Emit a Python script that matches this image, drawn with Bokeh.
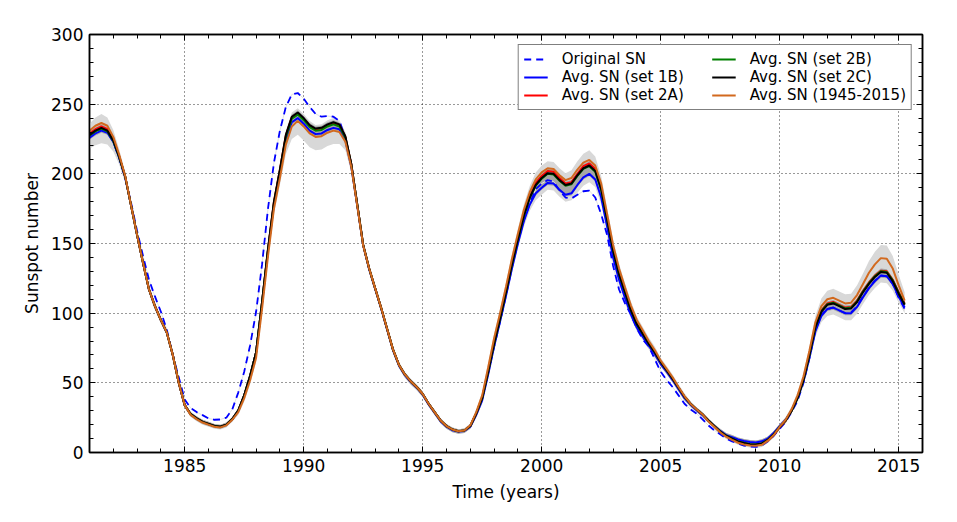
import numpy as np
from bokeh.plotting import figure
from bokeh.models import Range1d, LinearAxis, SingleIntervalTicker, Legend, LegendItem
from bokeh.embed import file_html
from bokeh.resources import INLINE

# time axis: quarter-year samples 1981.00 ... 2015.25
years = np.round(np.arange(1981.0, 2015.26, 0.25), 2)

original_sn = [
    226, 229.5, 232, 230,
    223, 211, 197, 179,
    159, 141, 124, 112,
    101, 88, 70, 54,
    38, 32, 29, 26.8,
    24.5, 23.5, 23.7, 25,
    31, 43, 58, 77,
    101, 135, 175, 208,
    231, 248, 257, 258,
    254, 248, 243, 241,
    241.5, 241, 238, 226,
    207, 178, 149, 132,
    118, 104, 89, 74,
    63, 56, 51, 47,
    42, 35, 29, 23,
    19, 16.5, 15.2, 15.8,
    19, 28, 39, 57,
    76, 94, 113, 133,
    151, 167, 179, 189,
    193, 195.5, 194.5, 188,
    183, 182.3, 185, 187.5,
    188, 183, 171, 156,
    134, 117, 107, 99,
    89, 81, 76, 67,
    58, 52, 47, 41,
    35, 31, 28, 24,
    19.5, 16, 13, 10,
    8, 6.5, 5, 4.2,
    4, 5, 8, 12,
    17, 22, 29, 37,
    50, 68, 88, 99,
    103, 104, 102, 100,
    100.5, 105, 112, 118,
    123.5, 127, 126.5, 121,
    111, 103,
]

avg_1b = [
    226, 229, 231, 229.5,
    223, 211.5, 197.5, 177,
    156, 136, 117, 105,
    95, 86, 70, 50,
    34, 27.5, 24.5, 22,
    20.5, 19, 18.5, 20,
    24, 30, 41, 55,
    72, 107, 145, 178,
    200, 224, 237, 240,
    236, 231, 228.5, 229,
    231.5, 233, 232, 224,
    205, 177, 148.5, 131.5,
    117.5, 103.5, 88.5, 73.5,
    62.5, 55.5, 50.5, 46.5,
    41.5, 34.5, 28.5, 22.5,
    18.5, 16, 15, 15.5,
    18.5, 27, 37.5, 56,
    76, 94, 112.5, 132,
    150, 166, 178, 186,
    190, 193.5, 193, 188.5,
    185, 186, 192, 197.5,
    200, 196, 183, 162,
    140, 124, 111, 99,
    89.5, 83, 76.5, 70.5,
    63.5, 58, 52, 45.5,
    39, 34.5, 30.5, 27,
    23, 19, 15.5, 12.5,
    11, 9.3, 8.2, 7.5,
    7.2, 8, 10, 14,
    19, 23.5, 30, 39,
    51, 68, 87, 98,
    103, 104, 102, 100,
    100, 104.5, 111.5, 118,
    123, 127, 126.5, 121,
    112, 104,
]

avg_2a = [
    229, 232, 234, 232,
    225, 212.5, 198, 177,
    156, 136, 117, 105,
    95, 86, 70, 50,
    34, 27.5, 24.5, 22,
    20.5, 19, 18.5, 20,
    24, 30, 41, 55,
    72, 108, 146, 180,
    203, 227.5, 240.5, 243.5,
    239.5, 234.5, 232, 232.5,
    235, 236.5, 235, 226.5,
    207, 178, 149, 132,
    118, 104, 89, 74,
    63, 56, 51, 47,
    42, 35, 29, 23,
    19, 16.5, 15.2, 15.8,
    19, 28, 39.5, 58.5,
    79, 97, 116, 136,
    154, 171, 184, 193.5,
    198.5, 202, 201.5, 197,
    193, 194, 200, 205.5,
    207.5, 203.5, 190, 168,
    146, 129, 116, 103,
    93, 85.5, 78.5, 72,
    65, 59, 53, 46.5,
    40, 35, 31, 27.5,
    23, 18.8, 14.8, 11.7,
    9.6, 7.6, 6.3, 5.5,
    5.2, 6, 8.5, 12.5,
    18, 22.8, 30, 39.5,
    52.5, 71, 91, 102,
    107, 108, 106, 104,
    104.5, 109, 116, 122,
    127, 130.5, 130, 124,
    115, 107,
]

avg_2b = [
    227.5, 230.5, 232.5, 230.5,
    223.5, 212, 198, 177,
    156, 136, 117, 105,
    95, 86, 70, 50,
    34, 27.5, 24.5, 22,
    20.5, 19, 18.5, 20,
    24, 30, 41, 55,
    72, 108, 145.5, 179,
    202, 226.5, 239.5, 242.5,
    238.5, 233.5, 231, 231.5,
    234, 235.5, 234, 226,
    206.5, 178, 149, 132,
    118, 104, 89, 74,
    63, 56, 51, 47,
    42, 35, 29, 23,
    19, 16.5, 15.2, 15.8,
    19, 28, 39, 58,
    78, 96, 115, 135,
    153, 170, 183, 191.5,
    196.5, 200, 199.5, 195,
    191.5, 192.5, 198.5, 203.5,
    205.5, 201.5, 188.5, 167,
    145, 128, 115, 102,
    92, 85, 78, 72,
    65, 59, 53, 46.5,
    40, 35, 31, 27.5,
    23, 19, 15, 12,
    10, 8, 6.8, 6,
    5.7, 6.5, 9, 13,
    18.4, 23, 30, 39,
    52, 70, 90, 101.5,
    106.5, 107.5, 105.5, 103.5,
    104, 108.5, 115.5, 121.5,
    126.5, 130, 129.5, 123.5,
    114.5, 106.5,
]

avg_2c = [
    228, 231, 233, 231,
    224, 212, 198, 177,
    156, 136, 117, 105,
    95, 86, 70, 50,
    34, 27.5, 24.5, 22,
    20.5, 19, 18.5, 20,
    24, 30, 41, 55,
    72, 108, 146, 180,
    203, 228, 241, 244,
    240, 235, 232.5, 233,
    235.5, 237, 235.5, 227,
    207, 178, 149, 132,
    118, 104, 89, 74,
    63, 56, 51, 47,
    42, 35, 29, 23,
    19, 16.5, 15.2, 15.8,
    19, 28, 39, 58,
    78, 96, 115, 135,
    153, 170, 183, 192,
    197, 200.5, 200, 195.5,
    192, 193, 199, 204,
    206, 202, 189, 167,
    145, 128, 115, 102,
    92, 85, 78, 72,
    65, 59, 53, 46.5,
    40, 35, 31, 27.5,
    23, 19, 15, 12,
    10, 8, 6.8, 6,
    5.7, 6.5, 9, 13,
    18.4, 23, 30, 39,
    52, 70, 90, 101,
    106, 107, 105, 103,
    103.4, 108, 115, 121,
    126, 129.5, 129, 123,
    114, 106,
]

avg_1945_2015 = [
    231, 234.5, 236.5, 234.5,
    226.5, 213.5, 198.5, 177,
    156, 136, 117, 105,
    95, 86, 70, 50,
    34, 27, 24, 21.5,
    20, 18.5, 18, 19.5,
    23.5, 29, 39, 52,
    68, 103, 141, 175,
    197, 221, 234, 238,
    234, 229, 226.5, 227,
    229.5, 231, 230, 223,
    205, 177, 148.5, 132,
    118, 104, 89, 74,
    63, 56, 51, 47,
    42, 35, 29, 23,
    19, 16.5, 15.2, 15.8,
    19.5, 29, 41, 61,
    82, 100, 119, 139,
    157, 174, 187, 196,
    201, 204, 203.5, 199,
    195.5, 197, 203, 208,
    210, 206, 193, 171,
    149, 132, 118.5, 105.5,
    95, 87.5, 80, 73.5,
    66, 60, 54, 47,
    40.5, 35, 31, 27.5,
    22.5, 18.5, 14.5, 11.3,
    9, 7, 5.8, 5,
    4.8, 5.5, 8.5, 12.5,
    18.5, 23.5, 31, 41,
    54.5, 73, 93.5, 105,
    110, 111, 109, 107,
    107.5, 113, 121, 129,
    135, 139.5, 139, 132,
    120, 109,
]

# spread of the light grey band above / below the envelope of the averages
band_up = [
    5, 6, 6.5, 6,
    5, 4, 3, 3,
    3, 3, 3, 3,
    2.5, 2.5, 2.5, 2.5,
    2, 1.5, 1.5, 1.5,
    1.5, 1.5, 1.5, 1.5,
    1.5, 2, 2.5, 3,
    3, 3, 3, 3,
    3, 3, 3, 3,
    3, 3, 2.5, 2.5,
    3, 3, 3, 3,
    3, 3, 3, 3,
    2.5, 2.5, 2.5, 2.5,
    2, 2, 2, 2,
    2, 1.5, 1.5, 1.5,
    1.5, 1.5, 1.5, 1.5,
    1.5, 2, 2.5, 3,
    3, 3, 3, 3.5,
    3.5, 4, 4.5, 5,
    5, 5, 5, 5,
    5, 5.5, 6, 6.5,
    7, 6.5, 5.5, 4.5,
    4, 3.5, 3, 3,
    2.5, 2.5, 2.5, 2.5,
    2, 2, 2, 2,
    2, 2, 1.5, 1.5,
    1.5, 1.5, 1.5, 1.5,
    1.5, 1.5, 1.5, 1.5,
    1.5, 1.5, 1.5, 1.5,
    1.5, 2, 2, 2.5,
    3, 3.5, 4.5, 5.5,
    6, 6.5, 6.5, 6.5,
    6.5, 7, 7.5, 8.5,
    9, 9.5, 9.5, 9,
    7.5, 6,
]

band_dn = [
    8, 8.5, 9, 8.5,
    7, 5, 4, 3,
    3, 3, 3, 3,
    2.5, 2.5, 2.5, 2.5,
    2, 1.5, 1.5, 1.5,
    1.5, 1.5, 1.5, 1.5,
    1.5, 2, 2.5, 3,
    3, 3, 3.5, 4,
    5, 7, 9, 10,
    10, 10, 9.5, 9.5,
    9.5, 9.5, 8.5, 6,
    4, 3, 3, 3,
    2.5, 2.5, 2.5, 2.5,
    2, 2, 2, 2,
    2, 1.5, 1.5, 1.5,
    1.5, 1.5, 1.5, 1.5,
    1.5, 2, 2.5, 3,
    3, 3, 3, 3,
    3.5, 4, 4.5, 5,
    5, 5, 5, 5,
    5, 5, 5.5, 6,
    6, 5.5, 5, 4.5,
    4, 3.5, 3, 3,
    2.5, 2.5, 2.5, 2.5,
    2, 2, 2, 2,
    2, 2, 1.5, 1.5,
    1.5, 1.5, 1.5, 1.5,
    1.5, 1.5, 1.5, 1.5,
    1.5, 1.5, 1.5, 1.5,
    1.5, 2, 2, 2.5,
    3, 3.5, 4, 4.5,
    5, 5, 5, 5,
    5, 5, 5, 5,
    5, 5, 5, 5,
    4.5, 4,
]

x_ticks_interval = 5
y_ticks_interval = 50

arrs = dict(original_sn=original_sn, avg_1b=avg_1b, avg_2a=avg_2a, avg_2b=avg_2b,
            avg_2c=avg_2c, avg_1945_2015=avg_1945_2015, band_up=band_up, band_dn=band_dn)
for k, v in arrs.items():
    if len(v) != len(years):
        print("length mismatch", k, len(v), len(years))

n = len(years)
all5 = np.array([avg_1b[:n], avg_2a[:n], avg_2b[:n], avg_2c[:n], avg_1945_2015[:n]], dtype=float)
four = np.array([avg_1b[:n], avg_2a[:n], avg_2b[:n], avg_2c[:n]], dtype=float)
light_lo = all5.min(axis=0) - np.array(band_dn[:n])
light_hi = all5.max(axis=0) + np.array(band_up[:n])
dark_lo = four.min(axis=0) - 1.5
dark_hi = four.max(axis=0) + 1.5

FONT = "DejaVu Sans"

p = figure(frame_width=833, frame_height=418, output_backend="svg", toolbar_location=None,
           x_range=Range1d(1981, 2016), y_range=Range1d(0, 300),
           min_border_left=89, min_border_top=34, min_border_right=18, min_border_bottom=50)
p.background_fill_color = "white"
p.border_fill_color = "white"
p.outline_line_color = "black"
p.outline_line_width = 1.5

p.varea(x=years, y1=light_lo, y2=light_hi, fill_color="#d8d8d8")
p.varea(x=years, y1=dark_lo, y2=dark_hi, fill_color="#a6a6a6")

p.line(years, original_sn[:n], line_color="#e2e2e2", line_width=1)
r0 = p.line(years, original_sn[:n], line_color="blue", line_width=1.8, line_dash="7 5")
r1 = p.line(years, avg_1b[:n], line_color="blue", line_width=2)
r2 = p.line(years, avg_2a[:n], line_color="red", line_width=2)
r3 = p.line(years, avg_2b[:n], line_color="green", line_width=2)
r4 = p.line(years, avg_2c[:n], line_color="black", line_width=2)
r5 = p.line(years, avg_1945_2015[:n], line_color="#d2691e", line_width=2)

xt = SingleIntervalTicker(interval=x_ticks_interval, num_minor_ticks=5)
yt = SingleIntervalTicker(interval=y_ticks_interval, num_minor_ticks=5)

def style_axis(ax, labels=True):
    ax.axis_line_color = "black"
    ax.axis_line_width = 1.5
    ax.major_tick_in = 6
    ax.major_tick_out = 0
    ax.minor_tick_in = 4
    ax.minor_tick_out = 0
    ax.major_tick_line_color = "black"
    ax.minor_tick_line_color = "black"
    ax.major_label_text_font = FONT
    ax.major_label_text_font_size = "17px"
    ax.major_label_text_color = "black"
    ax.axis_label_text_font = FONT
    ax.axis_label_text_font_size = "17px"
    ax.axis_label_text_font_style = "normal"
    ax.axis_label_text_color = "black"
    if not labels:
        ax.major_label_text_font_size = "0px"
        ax.major_label_text_alpha = 0

p.xaxis.ticker = xt
p.yaxis.ticker = yt
style_axis(p.xaxis[0])
style_axis(p.yaxis[0])
p.xaxis.axis_label = "Time (years)"
p.yaxis.axis_label = "Sunspot number"
p.xaxis.major_label_standoff = 6
p.yaxis.major_label_standoff = 6
p.xaxis.axis_label_standoff = 7
p.yaxis.axis_label_standoff = 6

top = LinearAxis(ticker=SingleIntervalTicker(interval=x_ticks_interval, num_minor_ticks=5))
right = LinearAxis(ticker=SingleIntervalTicker(interval=y_ticks_interval, num_minor_ticks=5))
style_axis(top, labels=False)
style_axis(right, labels=False)
p.add_layout(top, "above")
p.add_layout(right, "right")

for g in (p.xgrid[0], p.ygrid[0]):
    g.grid_line_color = "black"
    g.grid_line_dash = "1 3"
    g.grid_line_width = 1
    g.grid_line_alpha = 0.8
p.xgrid.ticker = xt
p.ygrid.ticker = yt

legend = Legend(items=[
    LegendItem(label="Original SN", renderers=[r0]),
    LegendItem(label="Avg. SN (set 1B)", renderers=[r1]),
    LegendItem(label="Avg. SN (set 2A)", renderers=[r2]),
    LegendItem(label="Avg. SN (set 2B)", renderers=[r3]),
    LegendItem(label="Avg. SN (set 2C)", renderers=[r4]),
    LegendItem(label="Avg. SN (1945-2015)", renderers=[r5]),
], location="top_right", ncols=2)
legend.margin = 10
legend.padding = 5
legend.spacing = 0
legend.label_height = 16
legend.glyph_height = 16
legend.glyph_width = 24
legend.label_standoff = 14
legend.label_width = 150
legend.label_text_font = FONT
legend.label_text_font_size = "15px"
legend.label_text_line_height = 1.0
legend.label_text_color = "black"
legend.border_line_color = "black"
legend.border_line_width = 1.5
legend.background_fill_alpha = 1
p.add_layout(legend)

open("out.html", "w").write(file_html(p, INLINE))
